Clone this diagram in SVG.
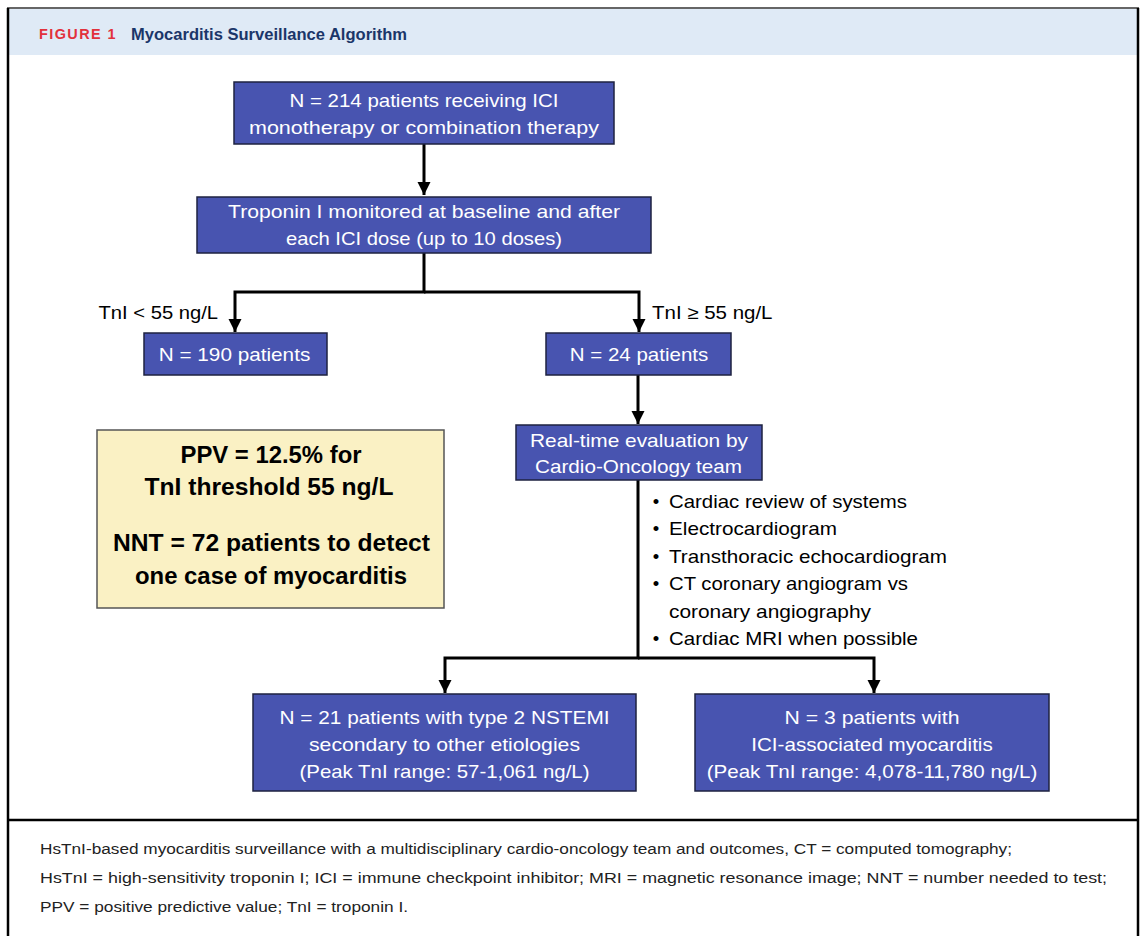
<svg xmlns="http://www.w3.org/2000/svg" width="1142" height="936" viewBox="0 0 1142 936">
<defs>
<marker id="ah" markerUnits="userSpaceOnUse" markerWidth="14" markerHeight="14" refX="13" refY="7" orient="auto">
<path d="M0,0.5 L13,7 L0,13.5 z" fill="#000"/>
</marker>
<style>
.box{fill:#4854b0;stroke:#1e2240;stroke-width:1.5}
.bt{font-family:"Liberation Sans",Arial,sans-serif;font-size:18.5px;fill:#fff;text-anchor:middle}
.lt{font-family:"Liberation Sans",Arial,sans-serif;font-size:18.5px;fill:#000}
.yt{font-family:"Liberation Sans",Arial,sans-serif;font-size:23px;font-weight:bold;fill:#000;text-anchor:middle}
.cap{font-family:"Liberation Sans",Arial,sans-serif;font-size:15.5px;fill:#222}
.conn{fill:none;stroke:#000;stroke-width:3;stroke-linejoin:miter}
.frame{stroke:#000;stroke-width:2.5;fill:none}
</style>
</defs>
<rect x="0" y="0" width="1142" height="936" fill="#fff"/>
<g id="frame">
<rect x="8" y="9" width="1130" height="46" fill="#dfeaf6"/>
<line x1="7" y1="8" x2="1139" y2="8" stroke="#666" stroke-width="2"/>
<line class="frame" x1="8" y1="8" x2="8" y2="936"/>
<line class="frame" x1="1138" y1="8" x2="1138" y2="936"/>
<line class="frame" x1="8" y1="820" x2="1138" y2="820"/>
<text x="39" y="39" font-family="Liberation Sans,Arial,sans-serif" font-size="15" font-weight="bold" fill="#e2313c" letter-spacing="1.5" textLength="78" lengthAdjust="spacingAndGlyphs">FIGURE 1</text>
<text x="131" y="39.5" font-family="Liberation Sans,Arial,sans-serif" font-size="16.5" font-weight="bold" fill="#1b3669" textLength="276" lengthAdjust="spacingAndGlyphs">Myocarditis Surveillance Algorithm</text>
</g>
<g id="connectors">
<path class="conn" d="M424,144 V195" marker-end="url(#ah)"/>
<path class="conn" d="M424,253 V292 H235 V332" marker-end="url(#ah)"/>
<path class="conn" d="M424,292 H639 V332" marker-end="url(#ah)"/>
<path class="conn" d="M638,375 V424" marker-end="url(#ah)"/>
<path class="conn" d="M638,480 V658 H445 V693" marker-end="url(#ah)"/>
<path class="conn" d="M638,658 H874 V693" marker-end="url(#ah)"/>
</g>
<g id="n1">
<rect class="box" x="234" y="82" width="380" height="62"/>
<text class="bt" x="424" y="107" textLength="269" lengthAdjust="spacingAndGlyphs">N = 214 patients receiving ICI</text>
<text class="bt" x="424" y="134" textLength="350" lengthAdjust="spacingAndGlyphs">monotherapy or combination therapy</text>
</g>
<g id="n2">
<rect class="box" x="197" y="197" width="454" height="56"/>
<text class="bt" x="424" y="218" textLength="392" lengthAdjust="spacingAndGlyphs">Troponin I monitored at baseline and after</text>
<text class="bt" x="424" y="245" textLength="276" lengthAdjust="spacingAndGlyphs">each ICI dose (up to 10 doses)</text>
</g>
<g id="lbl-low">
<text class="lt" x="98.5" y="319" textLength="119.5" lengthAdjust="spacingAndGlyphs">TnI &lt; 55 ng/L</text>
</g>
<g id="lbl-high">
<text class="lt" x="652" y="319" textLength="120.5" lengthAdjust="spacingAndGlyphs">TnI ≥ 55 ng/L</text>
</g>
<g id="n3">
<rect class="box" x="144" y="333" width="183" height="42"/>
<text class="bt" x="234.5" y="361" textLength="151.5" lengthAdjust="spacingAndGlyphs">N = 190 patients</text>
</g>
<g id="n4">
<rect class="box" x="546" y="333" width="185" height="42"/>
<text class="bt" x="639" y="361" textLength="138.5" lengthAdjust="spacingAndGlyphs">N = 24 patients</text>
</g>
<g id="n5">
<rect class="box" x="516" y="425" width="246" height="55"/>
<text class="bt" x="639" y="447" textLength="218" lengthAdjust="spacingAndGlyphs">Real-time evaluation by</text>
<text class="bt" x="638.5" y="473" textLength="207" lengthAdjust="spacingAndGlyphs">Cardio-Oncology team</text>
</g>
<g id="eval-list">
<text class="lt" x="656" y="508" text-anchor="middle">•</text>
<text class="lt" x="669" y="508" textLength="238" lengthAdjust="spacingAndGlyphs">Cardiac review of systems</text>
<text class="lt" x="656" y="535" text-anchor="middle">•</text>
<text class="lt" x="669" y="535" textLength="168" lengthAdjust="spacingAndGlyphs">Electrocardiogram</text>
<text class="lt" x="656" y="563" text-anchor="middle">•</text>
<text class="lt" x="669" y="563" textLength="278" lengthAdjust="spacingAndGlyphs">Transthoracic echocardiogram</text>
<text class="lt" x="656" y="590" text-anchor="middle">•</text>
<text class="lt" x="669" y="590" textLength="239" lengthAdjust="spacingAndGlyphs">CT coronary angiogram vs</text>
<text class="lt" x="669" y="618" textLength="202" lengthAdjust="spacingAndGlyphs">coronary angiography</text>
<text class="lt" x="656" y="645" text-anchor="middle">•</text>
<text class="lt" x="669" y="645" textLength="249" lengthAdjust="spacingAndGlyphs">Cardiac MRI when possible</text>
</g>
<g id="ppv-box">
<rect x="97" y="430" width="347" height="178" fill="#faf1c4" stroke="#555" stroke-width="1.5"/>
<text class="yt" x="271" y="463" textLength="181" lengthAdjust="spacingAndGlyphs">PPV = 12.5% for</text>
<text class="yt" x="269" y="495" textLength="249" lengthAdjust="spacingAndGlyphs">TnI threshold 55 ng/L</text>
<text class="yt" x="271.5" y="551" textLength="317" lengthAdjust="spacingAndGlyphs">NNT = 72 patients to detect</text>
<text class="yt" x="271" y="584" textLength="272" lengthAdjust="spacingAndGlyphs">one case of myocarditis</text>
</g>
<g id="n6">
<rect class="box" x="253" y="694" width="383" height="97"/>
<text class="bt" x="444.5" y="724" textLength="330" lengthAdjust="spacingAndGlyphs">N = 21 patients with type 2 NSTEMI</text>
<text class="bt" x="444.5" y="751" textLength="271" lengthAdjust="spacingAndGlyphs">secondary to other etiologies</text>
<text class="bt" x="444.5" y="778" textLength="290" lengthAdjust="spacingAndGlyphs">(Peak TnI range: 57-1,061 ng/L)</text>
</g>
<g id="n7">
<rect class="box" x="695" y="694" width="354" height="97"/>
<text class="bt" x="872" y="724" textLength="175" lengthAdjust="spacingAndGlyphs">N = 3 patients with</text>
<text class="bt" x="872" y="751" textLength="241.5" lengthAdjust="spacingAndGlyphs">ICI-associated myocarditis</text>
<text class="bt" x="872" y="778" textLength="330.6" lengthAdjust="spacingAndGlyphs">(Peak TnI range: 4,078-11,780 ng/L)</text>
</g>
<g id="caption">
<text class="cap" x="40" y="854" textLength="972" lengthAdjust="spacingAndGlyphs">HsTnI-based myocarditis surveillance with a multidisciplinary cardio-oncology team and outcomes, CT = computed tomography;</text>
<text class="cap" x="40" y="883" textLength="1067" lengthAdjust="spacingAndGlyphs">HsTnI = high-sensitivity troponin I; ICI = immune checkpoint inhibitor; MRI = magnetic resonance image; NNT = number needed to test;</text>
<text class="cap" x="40" y="912" textLength="368" lengthAdjust="spacingAndGlyphs">PPV = positive predictive value; TnI = troponin I.</text>
</g>
</svg>
